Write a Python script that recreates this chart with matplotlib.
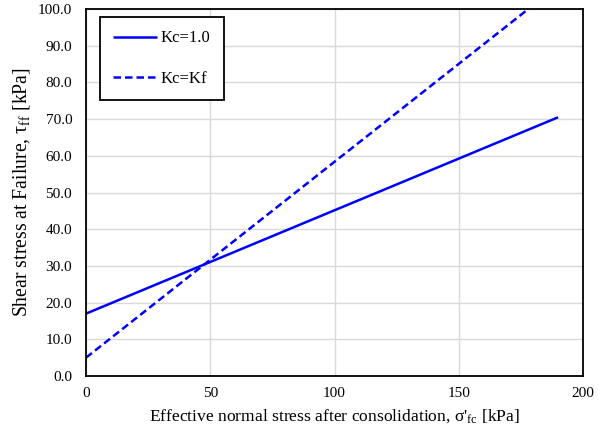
import matplotlib
matplotlib.use("Agg")
import matplotlib.pyplot as plt

plt.rcParams['font.family'] = ['Liberation Serif', 'DejaVu Serif']
plt.rcParams['mathtext.fontset'] = 'custom'
plt.rcParams['mathtext.rm'] = 'Liberation Serif'
plt.rcParams['mathtext.it'] = 'Liberation Serif:italic'

x_kc1 = [0, 190]
y_kc1 = [17.0, 70.5]
x_kckf = [0, 190]
y_kckf = [5.0, 106.4]
labels = ["Kc=1.0", "Kc=Kf"]

fig = plt.figure(figsize=(6.02, 4.29), dpi=100)
ax = fig.add_axes([0.1429, 0.1235, 0.8255, 0.8555])

ax.plot(x_kc1, y_kc1, color='#0000FF', lw=1.8, label=labels[0], solid_capstyle='butt')
ax.plot(x_kckf, y_kckf, color='#0000FF', lw=1.8, ls=(0, (3, 1.6)), label=labels[1])

ax.set_xlim(0, 200)
ax.set_ylim(0, 100)
ax.set_xticks([0, 50, 100, 150, 200])
ax.set_yticks(range(0, 101, 10))
ax.set_yticklabels([f"{v:.1f}" for v in range(0, 101, 10)])
ax.grid(True, color='#d9d9d9', lw=1.0)
ax.set_axisbelow(True)
for s in ax.spines.values():
    s.set_linewidth(1.3)
    s.set_color('black')
ax.tick_params(length=0, labelsize=11)
ax.tick_params(axis='x', pad=8)
ax.tick_params(axis='y', pad=10)

ax.set_xlabel("Effective normal stress after consolidation, σ'$_{\\mathrm{fc}}$ [kPa]", fontsize=12.6, labelpad=5)
ax.set_ylabel("Shear stress at Failure, τ$_{\\mathrm{ff}}$ [kPa]", fontsize=14.2, labelpad=4)

leg = ax.legend(loc='upper left', bbox_to_anchor=(0.028, 0.978), fontsize=12,
                frameon=True, fancybox=False, edgecolor='black', framealpha=1,
                labelspacing=1.45, handlelength=2.6, borderpad=0.8, handletextpad=0.25,
                borderaxespad=0)
leg.get_frame().set_linewidth(1.3)

fig.savefig("out.png", dpi=100)
